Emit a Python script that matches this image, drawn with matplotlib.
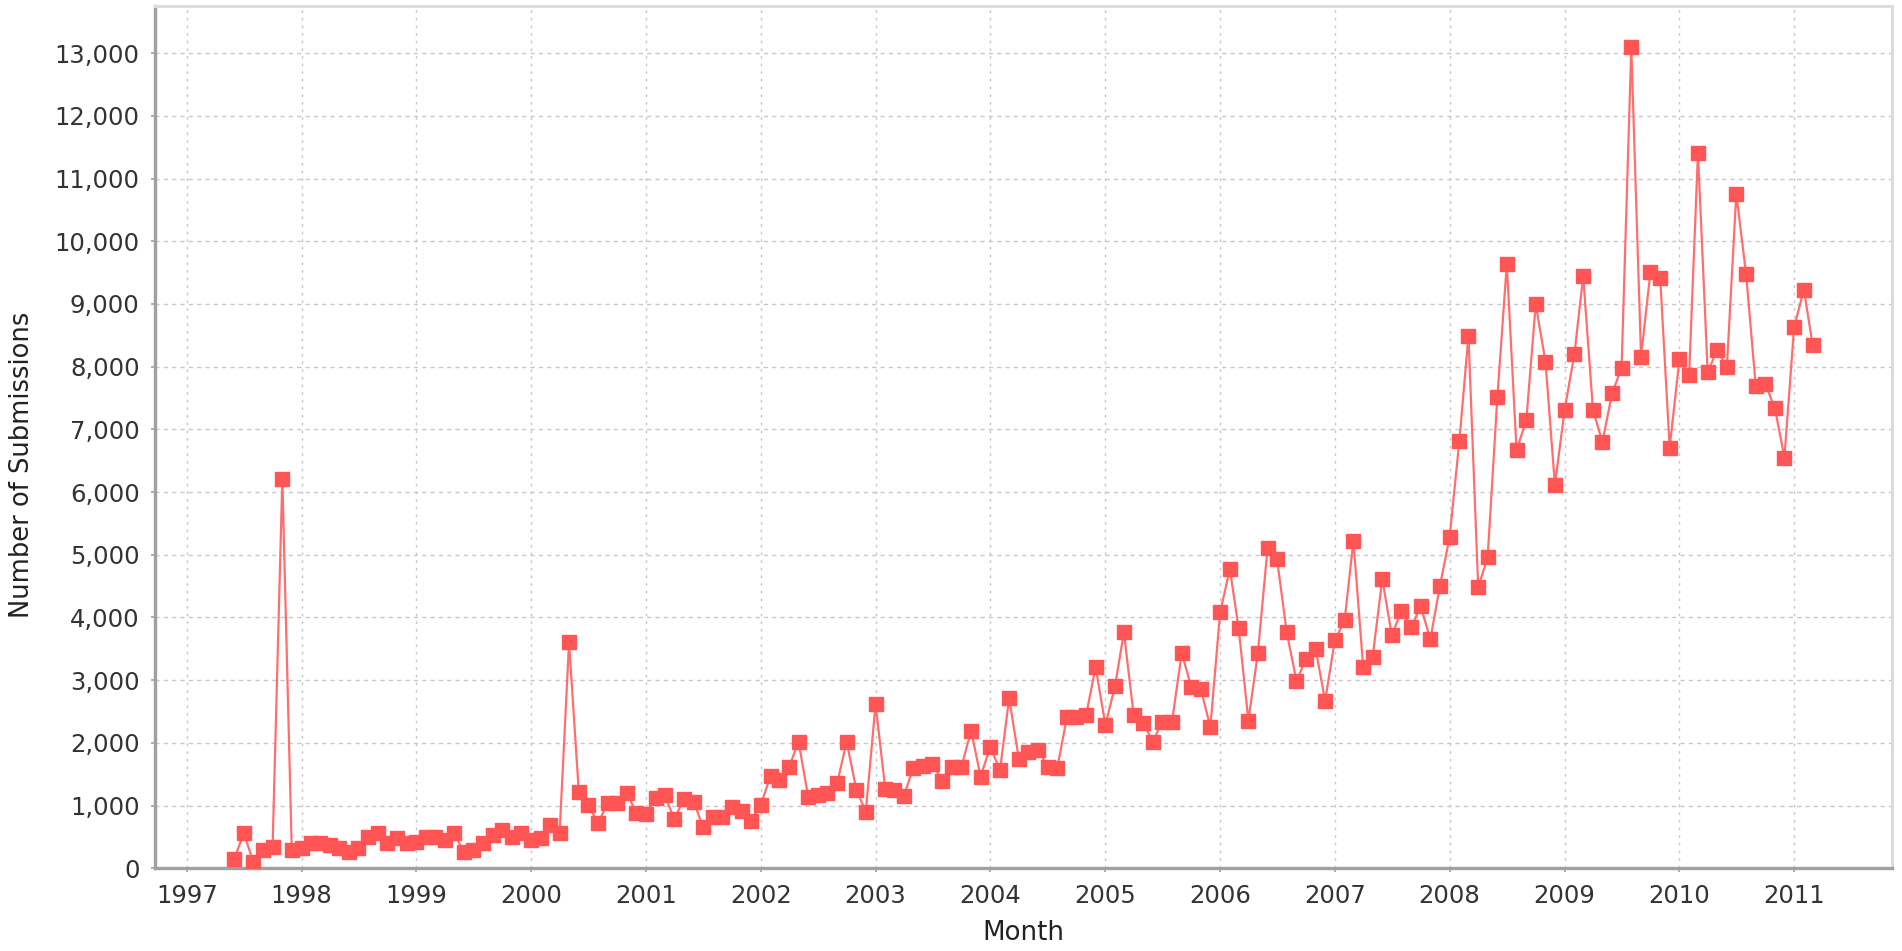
import pandas as pd
import matplotlib
matplotlib.use("Agg")
import matplotlib.pyplot as plt
import matplotlib.dates as mdates
from matplotlib.ticker import FuncFormatter, MultipleLocator

# monthly submissions, June 1997 .. March 2011
start_month = "1997-06"
submissions = [
    144, 558, 106, 293, 346, 6207, 293,                                   # 1997
    319, 400, 400, 372, 319, 266, 319, 505, 558, 400, 479, 400,           # 1998
    426, 505, 505, 452, 558, 266, 293, 400, 532, 612, 505, 558,           # 1999
    452, 479, 691, 558, 3601, 1223, 1011, 718, 1037, 1037, 1197, 888,     # 2000
    872, 1117, 1170, 782, 1106, 1064, 665, 824, 824, 973, 920, 761,       # 2001
    1011, 1473, 1410, 1612, 2021, 1133, 1170, 1197, 1356, 2021, 1250, 904,  # 2002
    2617, 1260, 1250, 1154, 1596, 1633, 1665, 1399, 1612, 1612, 2197, 1463,  # 2003
    1931, 1569, 2713, 1739, 1862, 1888, 1622, 1596, 2420, 2420, 2447, 3212,  # 2004
    2287, 2910, 3766, 2447, 2324, 2021, 2340, 2340, 3431, 2899, 2856, 2250,  # 2005
    4080, 4771, 3830, 2356, 3431, 5106, 4931, 3761, 2989, 3335, 3495, 2670,  # 2006
    3633, 3952, 5223, 3218, 3367, 4612, 3723, 4096, 3846, 4176, 3654, 4500,  # 2007
    5280, 6810, 8495, 4480, 4960, 7517, 9638, 6670, 7147, 8996, 8079, 6114,  # 2008
    7315, 8202, 9443, 7315, 6796, 7578, 7976, 13092, 8159, 9516, 9412, 6710,  # 2009
    8116, 7872, 11411, 7914, 8263, 7994, 10757, 9485, 7688, 7731, 7334, 6551,  # 2010
    8636, 9229, 8342,                                                      # 2011
]
months = pd.date_range(start_month, periods=len(submissions), freq="MS")

fig = plt.figure(figsize=(19.02, 9.51), dpi=100)
ax = fig.add_axes([0.0815, 0.0870, 0.9132, 0.9065])

ax.plot(months, submissions, color="#ff6e6e", linewidth=1.6,
        marker="s", markersize=10, markerfacecolor="#ff5555",
        markeredgecolor="#ff5555", zorder=3)

ax.set_xlim(pd.Timestamp("1996-09-22"), pd.Timestamp("2011-11-08"))
ax.set_ylim(0, 13750)
ax.xaxis.set_major_locator(mdates.YearLocator())
ax.xaxis.set_major_formatter(mdates.DateFormatter("%Y"))
ax.yaxis.set_major_locator(MultipleLocator(1000))
ax.yaxis.set_major_formatter(FuncFormatter(lambda v, p: f"{int(v):,}"))

ax.grid(True, axis="y", color="#c8c8c8", linestyle=(0, (3, 3)), linewidth=1.0)
ax.grid(True, axis="x", color="#c8c8c8", linestyle=(0, (2, 3.5)), linewidth=1.0)
ax.set_axisbelow(True)

for side in ["left", "bottom"]:
    ax.spines[side].set_color("#a0a0a0")
    ax.spines[side].set_linewidth(2.4)
for side in ["top", "right"]:
    ax.spines[side].set_color("#dcdcdc")
    ax.spines[side].set_linewidth(2.2)

ax.tick_params(axis="both", labelsize=17.5, labelcolor="#333333",
               color="#a0a0a0", length=3, width=1.2, pad=8)

ax.set_xlabel("Month", fontsize=18.8, color="#222222", labelpad=9)
ax.set_ylabel("Number of Submissions", fontsize=18.5, color="#222222")
ax.yaxis.set_label_coords(-0.069, 0.468)

fig.savefig("out.png", dpi=100)
